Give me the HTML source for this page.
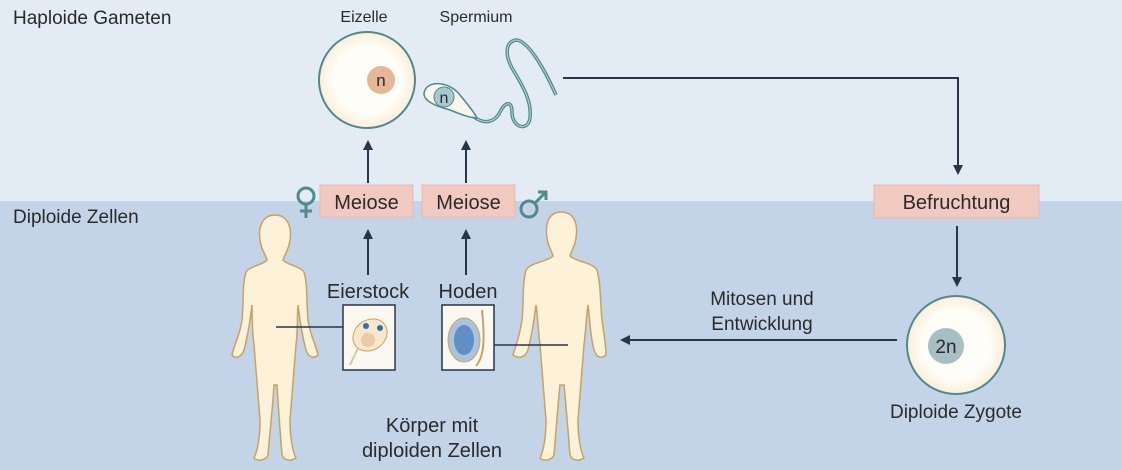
<!DOCTYPE html>
<html><head><meta charset="utf-8">
<style>
html,body{margin:0;padding:0;width:1122px;height:470px;overflow:hidden;background:#c4d4e8}
svg{display:block}
text{font-family:"Liberation Sans",sans-serif;fill:#2a2a2a}
</style></head>
<body>
<svg width="1122" height="470" viewBox="0 0 1122 470">
<defs>
<marker id="ah" markerWidth="10" markerHeight="10" refX="8" refY="5" orient="auto" markerUnits="userSpaceOnUse">
<path d="M0,0 L10,5 L0,10 Z" fill="#27354a"/></marker>
<radialGradient id="cellg"><stop offset="0.7" stop-color="#fffdf8"/><stop offset="1" stop-color="#fbeed8"/></radialGradient>
</defs>
<rect x="0" y="0" width="1122" height="201" fill="#e3ebf5"/>
<rect x="0" y="201" width="1122" height="269" fill="#c4d4e8"/>
<text x="13" y="24" font-size="19">Haploide Gameten</text>
<text x="13" y="223" font-size="19">Diploide Zellen</text>

<text x="364" y="22" font-size="16" text-anchor="middle">Eizelle</text>
<g>
<circle cx="367" cy="80" r="48" fill="url(#cellg)" stroke="#4f8a8c" stroke-width="2"/>
<circle cx="381" cy="80" r="14" fill="#e6b794"/>
<text x="381" y="86" font-size="17" text-anchor="middle">n</text></g>

<text x="476" y="22" font-size="16" text-anchor="middle">Spermium</text>
<g>
<path d="M474,117 C485,125 495,122 500,112 C505,102 512,100 512,112 C512,128 528,132 530,118 C532,100 522,85 512,68 C505,55 505,42 516,40 C528,40 545,70 556,95" fill="none" stroke="#4f8a8c" stroke-width="3.5"/>
<path d="M474,117 C485,125 495,122 500,112 C505,102 512,100 512,112 C512,128 528,132 530,118 C532,100 522,85 512,68 C505,55 505,42 516,40 C528,40 545,70 556,95" fill="none" stroke="#bcd7db" stroke-width="1"/>
<path d="M425,90 C430,80 450,82 460,95 C468,105 475,113 477,118 C470,118 460,114 450,110 C435,106 420,100 425,90 Z" fill="#fbf6ec" stroke="#4f8a8c" stroke-width="1.5"/>
<circle cx="444" cy="97" r="10" fill="#a7c8d0" stroke="#4f8a8c" stroke-width="1"/>
<text x="444" y="103" font-size="16" text-anchor="middle">n</text></g>

<line x1="368" y1="183" x2="368" y2="142" stroke="#27354a" stroke-width="2" marker-end="url(#ah)"/>
<line x1="466" y1="183" x2="466" y2="142" stroke="#27354a" stroke-width="2" marker-end="url(#ah)"/>

<g>
<rect x="320" y="185" width="93" height="32" fill="#f1cabf" stroke="#e9b9ad"/>
<text x="366.5" y="209" font-size="20" text-anchor="middle">Meiose</text></g>
<g>
<rect x="422" y="185" width="93" height="32" fill="#f1cabf" stroke="#e9b9ad"/>
<text x="468.5" y="209" font-size="20" text-anchor="middle">Meiose</text></g>
<g fill="none" stroke="#4f8a8c" stroke-width="3">
<circle cx="306" cy="196" r="8"/><line x1="306" y1="204" x2="306" y2="218"/><line x1="300" y1="211" x2="312" y2="211"/></g>
<g fill="none" stroke="#4f8a8c" stroke-width="3">
<circle cx="529" cy="209" r="8"/><line x1="535" y1="203" x2="546" y2="192"/><polyline points="538,192 546,192 546,200"/></g>

<polyline points="563,78 958,78 958,173" fill="none" stroke="#27354a" stroke-width="2" marker-end="url(#ah)"/>
<g>
<rect x="874" y="185" width="165" height="33" fill="#f1cabf" stroke="#e9b9ad"/>
<text x="956.5" y="209" font-size="20" text-anchor="middle">Befruchtung</text></g>
<line x1="957" y1="226" x2="957" y2="285" stroke="#27354a" stroke-width="2" marker-end="url(#ah)"/>

<g>
<circle cx="956" cy="345" r="49" fill="url(#cellg)" stroke="#4f8a8c" stroke-width="2"/>
<circle cx="946" cy="346" r="18" fill="#a6bfc5"/>
<text x="946" y="353" font-size="19" text-anchor="middle">2n</text></g>
<text x="956" y="418" font-size="19" text-anchor="middle">Diploide Zygote</text>

<text x="762" y="305" font-size="19" text-anchor="middle">Mitosen und</text>
<text x="762" y="330" font-size="19" text-anchor="middle">Entwicklung</text>
<line x1="897" y1="340" x2="622" y2="340" stroke="#27354a" stroke-width="2" marker-end="url(#ah)"/>

<text x="368" y="298" font-size="20" text-anchor="middle">Eierstock</text>
<text x="468" y="298" font-size="20" text-anchor="middle">Hoden</text>
<line x1="368" y1="275" x2="368" y2="231" stroke="#27354a" stroke-width="2" marker-end="url(#ah)"/>
<line x1="466" y1="275" x2="466" y2="231" stroke="#27354a" stroke-width="2" marker-end="url(#ah)"/>
<g>
<rect x="343" y="305" width="52" height="65" fill="#fbf8f2" stroke="#27354a" stroke-width="1.5"/>
<ellipse cx="370" cy="335" rx="18" ry="15" transform="rotate(-35 370 335)" fill="#f7e7cc" stroke="#c9a35a"/>
<circle cx="368" cy="340" r="7" fill="#efc8a6"/>
<circle cx="380" cy="328" r="3" fill="#2d70b8"/><circle cx="366" cy="326" r="3" fill="#2d70b8"/>
<line x1="358" y1="348" x2="350" y2="365" stroke="#d8c6a4" stroke-width="2"/></g>
<g>
<rect x="442" y="305" width="52" height="65" fill="#fbf8f2" stroke="#27354a" stroke-width="1.5"/>
<ellipse cx="464" cy="340" rx="16" ry="22" fill="#a9c3dc" stroke="#c9a35a"/>
<ellipse cx="464" cy="340" rx="10" ry="15" fill="#5f8fc6"/>
<path d="M482,310 C484,330 486,355 476,366" fill="none" stroke="#c9a35a" stroke-width="2"/></g>

<text x="432" y="432" font-size="20" text-anchor="middle">Körper mit</text>
<text x="432" y="457" font-size="20" text-anchor="middle">diploiden Zellen</text>

<g fill="#fdf1d8" stroke="#c9a35a" stroke-width="1.5">
<path d="M275,215 C288,215 292,228 290,240 C289,250 284,255 283,260 C287,265 300,266 304,272 C308,285 306,300 308,320 C310,335 316,345 318,355 C313,360 308,356 306,350 C302,335 300,322 298,305 C297,318 298,330 296,345 C294,370 292,395 290,420 C290,435 292,450 296,458 C290,462 284,460 282,455 C280,430 278,405 277,385 L274,385 C273,405 270,430 268,455 C266,460 258,462 254,458 C258,450 260,435 260,420 C258,395 256,370 254,345 C252,330 252,318 252,305 C250,322 248,335 244,350 C242,356 236,360 232,355 C234,345 240,335 242,320 C244,300 242,285 246,272 C250,266 263,265 267,260 C266,255 261,250 260,240 C258,228 262,215 275,215 Z"/>
</g>
<g fill="#fdf1d8" stroke="#c9a35a" stroke-width="1.5">
<path d="M561,212 C575,212 578,225 576,238 C575,247 571,251 570,256 C576,262 592,262 597,270 C601,285 600,300 602,320 C604,335 606,345 606,355 C600,360 596,356 594,350 C590,335 590,320 588,305 C586,318 586,330 584,345 C582,370 580,395 578,420 C578,435 580,450 584,458 C578,462 572,460 570,455 C568,430 566,405 564,385 L560,385 C558,405 556,430 554,455 C552,460 544,462 540,458 C544,450 546,435 546,420 C544,395 542,370 540,345 C538,330 538,318 536,305 C534,320 532,335 528,350 C526,356 520,360 513,355 C516,345 520,335 522,320 C524,300 522,285 526,270 C531,262 547,262 553,256 C552,251 548,247 547,238 C545,225 548,212 561,212 Z"/>
</g>
<line x1="276" y1="327" x2="343" y2="327" stroke="#27354a" stroke-width="1.5"/>
<line x1="494" y1="345" x2="568" y2="345" stroke="#27354a" stroke-width="1.5"/>
</svg>
</body></html>
